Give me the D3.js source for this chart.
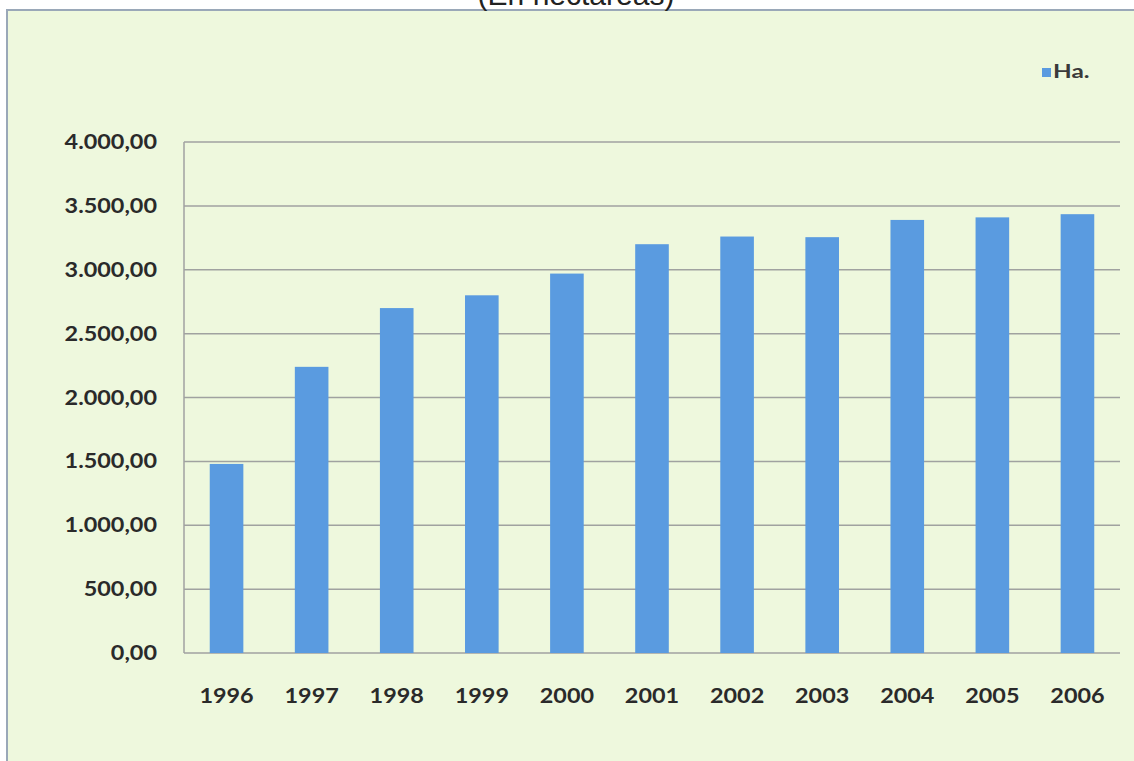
<!DOCTYPE html>
<html><head><meta charset="utf-8">
<script src="https://cdn.jsdelivr.net/npm/d3@7"></script>
<style>html,body{margin:0;padding:0;background:#fff;overflow:hidden}</style>
</head><body>
<svg id="c" width="1134" height="761"></svg>
<script>
const categories = ["1996","1997","1998","1999","2000","2001","2002","2003","2004","2005","2006"];
const values = [1480, 2240, 2700, 2800, 2970, 3200, 3260, 3255, 3390, 3410, 3435];
const yTicks = [0, 500, 1000, 1500, 2000, 2500, 3000, 3500, 4000];
const seriesName = "Ha.";
const title = "(En hectáreas)";

(function () {
const svg = d3.select("#c");
const SX = 1.17;
// panel
svg.append("rect").attr("x", 7).attr("y", 10).attr("width", 1140).attr("height", 760)
  .attr("fill", "#eef8dd").attr("stroke", "#9aa8b8").attr("stroke-width", 2);
// title (cut off at top, as in the reference)
svg.append("text").attr("x", 576).attr("y", 5).attr("text-anchor", "middle")
  .attr("font-family", "Liberation Sans, Arial, sans-serif").attr("font-size", 30)
  .attr("fill", "#222").text(title);

const pl = 184, pr = 1120, pt = 142, pb = 653;
const x = d3.scaleBand().domain(categories).range([pl, pr]).paddingInner(0.605).paddingOuter(0.3025);
const y = d3.scaleLinear().domain([0, 4000]).range([pb, pt]);

const fmt = v => { const s = d3.format(",.2f")(v); return s.replace(/,/g, "#").replace(".", ",").replace(/#/g, "."); };

// gridlines
svg.append("g").selectAll("line").data(yTicks).join("line")
  .attr("x1", pl).attr("x2", pr).attr("y1", d => y(d)).attr("y2", d => y(d))
  .attr("stroke", "#a0a2a0").attr("stroke-width", 1.5);
// left axis line
svg.append("line").attr("x1", pl).attr("x2", pl).attr("y1", pt).attr("y2", pb)
  .attr("stroke", "#a0a2a0").attr("stroke-width", 1.5);

// bars
svg.append("g").selectAll("rect").data(values).join("rect")
  .attr("x", (d, i) => x(categories[i])).attr("width", x.bandwidth())
  .attr("y", d => y(d)).attr("height", d => y(0) - y(d))
  .attr("fill", "#5a9be0");

// y labels
svg.append("g").selectAll("text").data(yTicks).join("text")
  .attr("transform", d => `translate(157,${y(d) + 7}) scale(${SX},1)`)
  .attr("text-anchor", "end")
  .attr("font-family", "Lato, sans-serif").attr("font-weight", 700).attr("font-size", 20)
  .attr("fill", "#2a2a2a").text(fmt);

// x labels
svg.append("g").selectAll("text").data(categories).join("text")
  .attr("transform", d => `translate(${x(d) + x.bandwidth() / 2},703) scale(${SX},1)`)
  .attr("text-anchor", "middle")
  .attr("font-family", "Lato, sans-serif").attr("font-weight", 700).attr("font-size", 20)
  .attr("fill", "#2a2a2a").text(d => d);

// legend
svg.append("rect").attr("x", 1042).attr("y", 68).attr("width", 9).attr("height", 9).attr("fill", "#5a9be0");
svg.append("text").attr("transform", `translate(1053,78) scale(1.35,1)`)
  .attr("font-family", "Lato, sans-serif").attr("font-weight", 700)
  .attr("font-size", 18).attr("fill", "#3a3a3a").text(seriesName);
})();
</script>
</body></html>
